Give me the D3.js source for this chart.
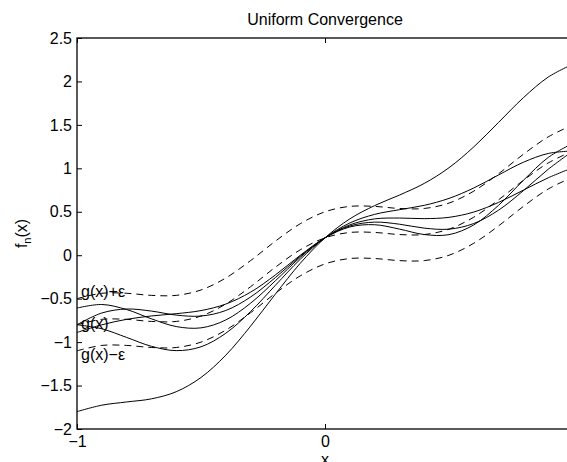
<!DOCTYPE html>
<html>
<head>
<meta charset="utf-8">
<script src="https://cdn.jsdelivr.net/npm/d3@7"></script>
<style>
  body { margin: 0; background: #fff; }
  text { font-family: "Liberation Sans", Arial, sans-serif; }
</style>
</head>
<body>
<div id="graph"></div>
<script>
// sample positions along x
const xs = [-1, -0.9, -0.8, -0.7, -0.6, -0.5, -0.4, -0.3, -0.2, -0.1, 0,
            0.1, 0.2, 0.3, 0.4, 0.5, 0.6, 0.7, 0.8, 0.9, 1];

// the five f_n curves (solid)
const f1 = [-1.8, -1.726, -1.689, -1.653, -1.571, -1.407, -1.15, -0.816, -0.447, -0.094, 0.2,
            0.418, 0.571, 0.692, 0.826, 1.007, 1.247, 1.529, 1.813, 2.05, 2.2];
const f2 = [-0.8, -0.847, -0.946, -1.048, -1.098, -1.054, -0.898, -0.648, -0.346, -0.047, 0.2,
            0.371, 0.47, 0.524, 0.574, 0.654, 0.774, 0.924, 1.07, 1.171, 1.2];
const f3 = [-0.608, -0.567, -0.625, -0.732, -0.821, -0.836, -0.745, -0.552, -0.294, -0.025, 0.2,
            0.349, 0.418, 0.428, 0.421, 0.436, 0.497, 0.608, 0.749, 0.891, 1.008];
const f4 = [-0.8, -0.665, -0.619, -0.643, -0.689, -0.7, -0.636, -0.481, -0.257, -0.012, 0.2,
            0.336, 0.381, 0.357, 0.312, 0.3, 0.365, 0.519, 0.743, 0.989, 1.2];
const f5 = [-0.889, -0.801, -0.738, -0.699, -0.673, -0.637, -0.562, -0.425, -0.227, -0.001, 0.2,
            0.325, 0.351, 0.301, 0.238, 0.237, 0.349, 0.575, 0.862, 1.125, 1.289];

// limit g(x) and the epsilon band (dashed)
const g = [-0.8, -0.738, -0.738, -0.762, -0.762, -0.7, -0.562, -0.362, -0.138, 0.062, 0.2,
           0.262, 0.262, 0.238, 0.238, 0.3, 0.438, 0.638, 0.862, 1.062, 1.2];
const gPlus = [-0.5, -0.438, -0.438, -0.462, -0.462, -0.4, -0.262, -0.062, 0.162, 0.362, 0.5,
               0.562, 0.562, 0.538, 0.538, 0.6, 0.738, 0.938, 1.162, 1.362, 1.5];
const gMinus = [-1.1, -1.038, -1.038, -1.062, -1.062, -1, -0.862, -0.662, -0.438, -0.238, -0.1,
                -0.038, -0.038, -0.062, -0.062, 0, 0.138, 0.338, 0.562, 0.762, 0.9];

// ticks and labels (the label at x = 1 falls outside the window)
const xTicks = [-1, 0, 1];
const xTickLabels = ["\u22121", "0", ""];
const yTicks = [-2, -1.5, -1, -0.5, 0, 0.5, 1, 1.5, 2, 2.5];
const bandLabels = ["g(x)+\u03b5", "g(x)", "g(x)\u2212\u03b5"];
const bandLabelY = [-0.42, -0.78, -1.14];

// the axes box runs past the right edge of the window, like the original
const margin = {top: 38, left: 77},
  width = 496,
  height = 391;

const svg = d3.select("#graph")
.append("svg")
  .attr("width", 567)
  .attr("height", 462)
.append("g")
  .attr("transform", `translate(${margin.left}, ${margin.top})`);

const x = d3.scaleLinear().domain([-1, 1]).range([0, width]);
const y = d3.scaleLinear().domain([-2, 2.5]).range([height, 0]);
const fmt = d3.format("");

// axes (ticks point inward, MATLAB style)
function styleAxis(g) {
  g.select(".domain").remove();
  g.selectAll("line").attr("stroke", "#000");
  g.selectAll("text")
    .attr("fill", "#000")
    .attr("font-size", 16)
    .attr("font-family", "Liberation Sans, Arial, sans-serif");
}

svg.append("g")
  .call(d3.axisLeft(y).tickValues(yTicks).tickFormat(fmt).tickSize(-5).tickPadding(5))
  .call(styleAxis);

svg.append("g")
  .attr("transform", `translate(0, ${height})`)
  .call(d3.axisBottom(x).tickValues(xTicks)
    .tickFormat((d, i) => xTickLabels[i]).tickSize(-5).tickPadding(7))
  .call(styleAxis);

svg.append("g")
  .call(d3.axisTop(x).tickValues(xTicks).tickFormat("").tickSize(-5))
  .call(styleAxis);

svg.append("g")
  .attr("transform", `translate(${width}, 0)`)
  .call(d3.axisRight(y).tickValues(yTicks).tickFormat("").tickSize(-5))
  .call(styleAxis);

// box
svg.append("rect")
  .attr("x", 0).attr("y", 0)
  .attr("width", width).attr("height", height)
  .attr("fill", "none")
  .attr("stroke", "#000")
  .attr("stroke-width", 1.3);

const line = d3.line()
  .x((d, i) => x(xs[i]))
  .y(d => y(d))
  .curve(d3.curveCatmullRom);

// dashed band
[gPlus, g, gMinus].forEach(s => {
  svg.append("path")
    .attr("d", line(s))
    .attr("fill", "none")
    .attr("stroke", "#000")
    .attr("stroke-width", 1)
    .attr("stroke-dasharray", "7,5");
});

// the f_n curves
[f1, f2, f3, f4, f5].forEach(s => {
  svg.append("path")
    .attr("d", line(s))
    .attr("fill", "none")
    .attr("stroke", "#000")
    .attr("stroke-width", 1);
});

// band labels at the left edge
svg.selectAll(".bandLabel")
  .data(bandLabels)
  .join("text")
    .attr("class", "bandLabel")
    .attr("x", x(-1) + 4)
    .attr("y", (d, i) => y(bandLabelY[i]))
    .attr("dy", "0.35em")
    .attr("font-size", 16)
    .text(d => d);

// title and axis labels
svg.append("text")
  .attr("x", width / 2)
  .attr("y", 25 - margin.top)
  .attr("text-anchor", "middle")
  .attr("font-size", 16)
  .text("Uniform Convergence");

// x label sits at the bottom edge, partly cut like in the original
svg.append("text")
  .attr("x", width / 2)
  .attr("y", 465 - margin.top)
  .attr("text-anchor", "middle")
  .attr("font-size", 16)
  .text("x");

const yl = svg.append("text")
  .attr("transform", `translate(${27 - margin.left}, ${height / 2}) rotate(-90)`)
  .attr("text-anchor", "middle")
  .attr("font-size", 16);
yl.append("tspan").text("f");
yl.append("tspan").attr("font-size", 11).attr("dy", 4).text("n");
yl.append("tspan").attr("dy", -4).text("(x)");
</script>
</body>
</html>
